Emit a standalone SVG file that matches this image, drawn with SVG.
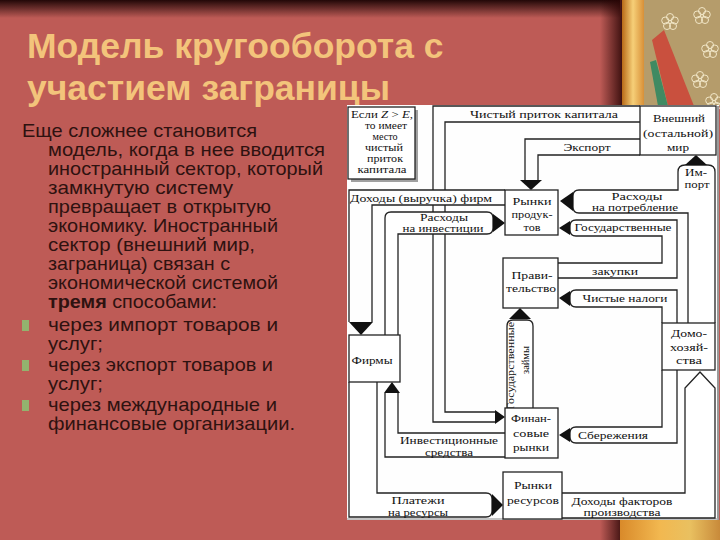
<svg xmlns="http://www.w3.org/2000/svg" width="720" height="540" viewBox="0 0 720 540">
<defs>
<linearGradient id="topShade" x1="0" y1="0" x2="0" y2="1"><stop offset="0" stop-color="#1a0303" stop-opacity="0.95"/><stop offset="1" stop-color="#1a0303" stop-opacity="0"/></linearGradient>
<linearGradient id="sideShade" x1="0" y1="0" x2="1" y2="0"><stop offset="0" stop-color="#2a0505" stop-opacity="0"/><stop offset="1" stop-color="#2a0505" stop-opacity="0.85"/></linearGradient>
<linearGradient id="gold" x1="0" y1="0" x2="1" y2="0"><stop offset="0" stop-color="#b86a18"/><stop offset="0.5" stop-color="#f6cf78"/><stop offset="1" stop-color="#d89038"/></linearGradient>
<linearGradient id="goldB" x1="0" y1="0" x2="1" y2="0"><stop offset="0" stop-color="#d98a2a"/><stop offset="0.4" stop-color="#f2b850"/><stop offset="0.7" stop-color="#e9c060"/><stop offset="1" stop-color="#c88a3a"/></linearGradient>
<symbol id="flower" viewBox="-10 -10 20 20" overflow="visible"><g fill="none" stroke="#f1e6c6" stroke-width="1"><circle cx="0" cy="-5" r="3.5"/><circle cx="4.8" cy="-1.5" r="3.5"/><circle cx="3" cy="4" r="3.5"/><circle cx="-3" cy="4" r="3.5"/><circle cx="-4.8" cy="-1.5" r="3.5"/><circle cx="0" cy="0" r="1.5"/></g></symbol>
</defs>
<style>
.title{font-family:"Liberation Sans",Arial,sans-serif;font-weight:bold;font-size:35.5px;fill:#F3C47B}
.body{font-family:"Liberation Sans",Arial,sans-serif;font-size:19px;fill:#2e1210}
.dt{font-family:"Liberation Serif","Times New Roman",serif;font-size:11px;fill:#111;text-anchor:middle}
.sm{font-size:9.5px}
.box{fill:#fff;stroke:#222;stroke-width:1.3}
.pipe{fill:none;stroke:#222;stroke-width:1.3}
.shape{fill:#fff;stroke:#222;stroke-width:1.3}
.ah{fill:#111}
.bul{fill:#93b36e}
</style>

<!-- slide background -->
<rect x="0" y="0" width="720" height="540" fill="#BE5B56"/>
<rect x="0" y="0" width="620" height="18" fill="url(#topShade)"/>
<rect x="600" y="0" width="22" height="106" fill="url(#sideShade)"/>
<rect x="622" y="0" width="22" height="106" fill="url(#gold)"/>
<rect x="644" y="0" width="76" height="106" fill="#b59c6b"/>
<polygon points="652,40 664,30 694,106 668,106" fill="#c9503e"/>
<polygon points="650,62 656,60 668,106 658,106" fill="#3f8a62"/>
<use href="#flower" x="692" y="6" width="20" height="20"/>
<use href="#flower" x="660" y="12" width="20" height="20"/>
<use href="#flower" x="700" y="40" width="20" height="20"/>
<use href="#flower" x="690" y="70" width="20" height="20"/>
<use href="#flower" x="704" y="92" width="20" height="20"/>
<rect x="600" y="520" width="22" height="20" fill="url(#sideShade)"/>
<rect x="620" y="520" width="100" height="20" fill="url(#goldB)"/>

<!-- title -->
<text class="title" x="27" y="58">Модель кругооборота с</text>
<text class="title" x="27" y="100">участием заграницы</text>

<!-- body text -->
<g class="body">
<text x="22" y="137" textLength="235" lengthAdjust="spacingAndGlyphs">Еще сложнее становится</text>
<text x="48" y="156" textLength="277" lengthAdjust="spacingAndGlyphs">модель, когда в нее вводится</text>
<text x="48" y="175" textLength="275" lengthAdjust="spacingAndGlyphs">иностранный сектор, который</text>
<text x="48" y="194" textLength="185" lengthAdjust="spacingAndGlyphs">замкнутую систему</text>
<text x="48" y="213" textLength="223" lengthAdjust="spacingAndGlyphs">превращает в открытую</text>
<text x="48" y="232" textLength="230" lengthAdjust="spacingAndGlyphs">экономику. Иностранный</text>
<text x="48" y="251" textLength="207" lengthAdjust="spacingAndGlyphs">сектор (внешний мир,</text>
<text x="48" y="270" textLength="182" lengthAdjust="spacingAndGlyphs">заграница) связан с</text>
<text x="48" y="289" textLength="230" lengthAdjust="spacingAndGlyphs">экономической системой</text>
<text x="48" y="308" textLength="169" lengthAdjust="spacingAndGlyphs"><tspan font-weight="bold">тремя</tspan> способами:</text>
<text x="48" y="331" textLength="230" lengthAdjust="spacingAndGlyphs">через импорт товаров и</text>
<text x="48" y="350" textLength="55" lengthAdjust="spacingAndGlyphs">услуг;</text>
<text x="48" y="371" textLength="225" lengthAdjust="spacingAndGlyphs">через экспорт товаров и</text>
<text x="48" y="390" textLength="55" lengthAdjust="spacingAndGlyphs">услуг;</text>
<text x="48" y="411" textLength="229" lengthAdjust="spacingAndGlyphs">через международные и</text>
<text x="48" y="430" textLength="247" lengthAdjust="spacingAndGlyphs">финансовые организации.</text>
</g>
<rect class="bul" x="22" y="320" width="7" height="11"/>
<rect class="bul" x="22" y="360" width="7" height="11"/>
<rect class="bul" x="22" y="400" width="7" height="11"/>

<!-- diagram canvas -->
<rect x="347" y="105" width="372" height="415" fill="#fefefe"/>
<line x1="718" y1="106" x2="718" y2="520" stroke="#9a9a9a" stroke-width="2"/>
<line x1="347" y1="519" x2="718" y2="519" stroke="#b0b0b0" stroke-width="1.5"/>

<g id="connectors">
<path class="pipe" d="M640,106 H433 V190 M433,205 V422 H495 M495,412 H445 V205 M445,190 V122 H640"/>
<path class="pipe" d="M640,139 H525 V181 M538,181 V155 H640"/>
<path class="pipe" d="M505,190 H349 V322 M372,322 V205 H505"/>
<path class="pipe" d="M505,433 H398 V393 M385,393 V457 H505"/>
<path class="shape" d="M398,335 V234 H487 Q493,234 493,228 V218 Q493,212 487,212 H391 Q385,212 385,218 V335"/>
<path class="shape" d="M377,382 V493 H486 Q492,493 492,499 V511 Q492,517 486,517 H349 V382"/>
<path class="shape" d="M507,408 V326 Q507,320 513,320 H527 Q533,320 533,326 V408"/>
<path class="shape" d="M562,493 H685 V388 L700,372 L715,388 V518 H562"/>
<path class="shape" d="M662,370 V427 H576 Q570,427 570,433 V437 Q570,443 576,443 H677 V370"/>
<path class="shape" d="M662,323 V307 H576 Q570,307 570,301 V296 Q570,290 576,290 H677 V323"/>
<path class="shape" d="M558,263 H662 V236 H576 Q570,236 570,230 V226 Q570,220 576,220 H677 V278 H558"/>
<path class="shape" d="M688,323 V213 H579 Q573,213 573,207 V196 Q573,190 579,190 H678 V172 Q678,165 685,165 H708 Q715,165 715,172 V323"/>
<polygon class="ah" points="520,180 542,180 531,190"/>
<polygon class="ah" points="685,165 707,165 696,155"/>
<polygon class="ah" points="573,192 573,211 560,201"/>
<polygon class="ah" points="570,221 570,235 559,228"/>
<polygon class="ah" points="570,291 570,306 559,298"/>
<polygon class="ah" points="570,428 570,442 559,435"/>
<polygon class="ah" points="493,214 493,232 505,223"/>
<polygon class="ah" points="495,410 495,424 505,417"/>
<polygon class="ah" points="492,494 492,516 503,505"/>
<polygon class="ah" points="349,322 373,322 361,335"/>
<polygon class="ah" points="384,393 400,393 392,382"/>
<polygon class="ah" points="509,319 531,319 520,308"/>
<g class="dt">
<text x="544" y="118" textLength="148" lengthAdjust="spacingAndGlyphs">Чистый приток капитала</text>
<text x="587" y="151" textLength="47" lengthAdjust="spacingAndGlyphs">Экспорт</text>
<text x="696" y="176" textLength="22" lengthAdjust="spacingAndGlyphs">Им-</text>
<text x="697" y="188" textLength="25" lengthAdjust="spacingAndGlyphs">порт</text>
<text class="sm" x="637" y="200" textLength="51" lengthAdjust="spacingAndGlyphs">Расходы</text>
<text class="sm" x="635" y="211" textLength="86" lengthAdjust="spacingAndGlyphs">на потребление</text>
<text x="421" y="202" textLength="142" lengthAdjust="spacingAndGlyphs">Доходы (выручка) фирм</text>
<text class="sm" x="444" y="221" textLength="48" lengthAdjust="spacingAndGlyphs">Расходы</text>
<text class="sm" x="443" y="232" textLength="81" lengthAdjust="spacingAndGlyphs">на инвестиции</text>
<text x="623" y="231" textLength="97" lengthAdjust="spacingAndGlyphs">Государственные</text>
<text x="615" y="275" textLength="46" lengthAdjust="spacingAndGlyphs">закупки</text>
<text x="625" y="302" textLength="85" lengthAdjust="spacingAndGlyphs">Чистые налоги</text>
<text x="613" y="439" textLength="70" lengthAdjust="spacingAndGlyphs">Сбережения</text>
<text x="449" y="444" textLength="98" lengthAdjust="spacingAndGlyphs">Инвестиционные</text>
<text x="449" y="456" textLength="48" lengthAdjust="spacingAndGlyphs">средства</text>
<text x="418" y="504" textLength="53" lengthAdjust="spacingAndGlyphs">Платежи</text>
<text x="418" y="516" textLength="60" lengthAdjust="spacingAndGlyphs">на ресурсы</text>
<text class="sm" x="622" y="505" textLength="101" lengthAdjust="spacingAndGlyphs">Доходы факторов</text>
<text class="sm" x="622" y="516" textLength="77" lengthAdjust="spacingAndGlyphs">производства</text>
<text transform="translate(514,366) rotate(-90)" textLength="88" lengthAdjust="spacingAndGlyphs">Государственные</text>
<text transform="translate(529,360) rotate(-90)" textLength="28" lengthAdjust="spacingAndGlyphs">займы</text>
</g>
</g>

<g id="node-condition">
<rect x="351" y="110" width="67" height="72" fill="#a0a0a0"/>
<rect class="box" x="348" y="107" width="67" height="72"/>
<g class="dt sm">
<text x="382" y="118" textLength="62" lengthAdjust="spacingAndGlyphs">Если <tspan font-style="italic">Z</tspan> &gt; <tspan font-style="italic">E</tspan>,</text>
<text x="386" y="129" textLength="42" lengthAdjust="spacingAndGlyphs">то имеет</text>
<text x="385" y="140" textLength="25" lengthAdjust="spacingAndGlyphs">место</text>
<text x="384" y="151" textLength="38" lengthAdjust="spacingAndGlyphs">чистый</text>
<text x="385" y="162" textLength="36" lengthAdjust="spacingAndGlyphs">приток</text>
<text x="382" y="173" textLength="49" lengthAdjust="spacingAndGlyphs">капитала</text>
</g>
</g>

<g id="node-world">
<rect class="box" x="640" y="106" width="76" height="49"/>
<g class="dt">
<text x="679" y="122" textLength="52" lengthAdjust="spacingAndGlyphs">Внешний</text>
<text x="678" y="137" textLength="70" lengthAdjust="spacingAndGlyphs">(остальной)</text>
<text x="678" y="151" textLength="22" lengthAdjust="spacingAndGlyphs">мир</text>
</g>
</g>

<g id="node-product-markets">
<rect class="box" x="505" y="190" width="53" height="45"/>
<g class="dt">
<text x="532" y="205" textLength="39" lengthAdjust="spacingAndGlyphs">Рынки</text>
<text x="532" y="218" textLength="41" lengthAdjust="spacingAndGlyphs">продук-</text>
<text x="532" y="231" textLength="17" lengthAdjust="spacingAndGlyphs">тов</text>
</g>
</g>

<g id="node-government">
<rect class="box" x="503" y="258" width="55" height="50"/>
<g class="dt">
<text x="532" y="279" textLength="41" lengthAdjust="spacingAndGlyphs">Прави-</text>
<text x="531" y="292" textLength="50" lengthAdjust="spacingAndGlyphs">тельство</text>
</g>
</g>

<g id="node-firms">
<rect class="box" x="349" y="335" width="51" height="47"/>
<text class="dt" x="372" y="364" textLength="41" lengthAdjust="spacingAndGlyphs">Фирмы</text>
</g>

<g id="node-households">
<rect class="box" x="662" y="323" width="53" height="47"/>
<g class="dt">
<text x="689" y="337" textLength="36" lengthAdjust="spacingAndGlyphs">Домо-</text>
<text x="689" y="351" textLength="38" lengthAdjust="spacingAndGlyphs">хозяй-</text>
<text x="689" y="364" textLength="26" lengthAdjust="spacingAndGlyphs">ства</text>
</g>
</g>

<g id="node-financial-markets">
<rect class="box" x="505" y="408" width="53" height="50"/>
<g class="dt">
<text x="531" y="422" textLength="40" lengthAdjust="spacingAndGlyphs">Финан-</text>
<text x="531" y="437" textLength="36" lengthAdjust="spacingAndGlyphs">совые</text>
<text x="531" y="451" textLength="36" lengthAdjust="spacingAndGlyphs">рынки</text>
</g>
</g>

<g id="node-resource-markets">
<rect class="box" x="503" y="472" width="59" height="47"/>
<g class="dt">
<text x="533" y="489" textLength="38" lengthAdjust="spacingAndGlyphs">Рынки</text>
<text x="533" y="504" textLength="52" lengthAdjust="spacingAndGlyphs">ресурсов</text>
</g>
</g>
</svg>
